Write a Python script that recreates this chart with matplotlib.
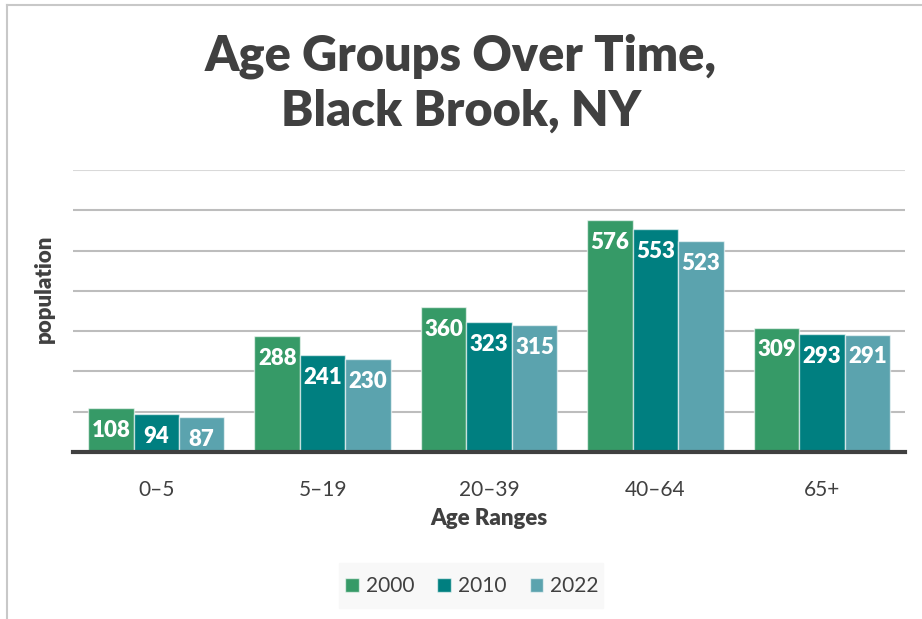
import numpy as np
import matplotlib.pyplot as plt
from matplotlib.lines import Line2D
from matplotlib.patches import Rectangle

plt.rcParams['font.family'] = ['Lato', 'DejaVu Sans']

age_ranges = ['0–5', '5–19', '20–39', '40–64', '65+']
years = ['2000', '2010', '2022']
pop_2000 = [108, 288, 360, 576, 309]
pop_2010 = [94, 241, 323, 553, 293]
pop_2022 = [87, 230, 315, 523, 291]
grid_values = [100, 200, 300, 400, 500, 600, 700]

colors = ['#369a67', '#007f80', '#5ba3ae']
dark = '#404040'

fig = plt.figure(figsize=(9.22, 6.19), dpi=100)
ax = fig.add_axes([0.0792, 0.2698, 0.9024, 0.4556])

x = np.arange(len(age_ranges))
w = 0.273
for i, (vals, c, yr) in enumerate(zip([pop_2000, pop_2010, pop_2022], colors, years)):
    bars = ax.bar(x + (i - 1) * w, vals, w, color=c, label=yr,
                  edgecolor=(1, 1, 1, 0.6), linewidth=1, zorder=3)
    for b, v in zip(bars, vals):
        ax.annotate(str(v), (b.get_x() + b.get_width() / 2, v),
                    xytext=(0, -16), textcoords='offset points',
                    ha='center', va='center', color='white',
                    fontsize=16, fontweight='heavy', zorder=4)

# gridlines, the top one a little lighter
for g in grid_values:
    ax.axhline(g, color='#d9d9d9' if g == grid_values[-1] else '#bdbdbd',
               linewidth=1.5, zorder=1)

ax.set_xlim(-0.5, len(age_ranges) - 0.5)
ax.set_ylim(0, 700)
ax.set_xticks(x)
ax.set_xticklabels(age_ranges, fontsize=15, color=dark)
ax.tick_params(axis='x', length=0, pad=20)
ax.set_yticks([])
for s in ['top', 'right', 'left']:
    ax.spines[s].set_visible(False)
ax.spines['bottom'].set_color(dark)
ax.spines['bottom'].set_linewidth(3)
ax.spines['bottom'].set_zorder(5)
ax.set_xlabel('Age Ranges', fontsize=16, fontweight='heavy', color=dark, labelpad=6)
ax.set_ylabel('population', fontsize=16, fontweight='heavy', color=dark, va='center')
ax.yaxis.set_label_coords(-0.034, 0.58)

fig.text(0.5, 1 - 56 / 619, 'Age Groups Over Time,', ha='center', va='center',
         fontsize=35, fontweight='heavy', color=dark)
fig.text(0.5, 1 - 111 / 619, 'Black Brook, NY', ha='center', va='center',
         fontsize=35, fontweight='heavy', color=dark)

# legend box
fig.patches.append(Rectangle((339 / 922, 1 - 608 / 619), 264 / 922, 45 / 619,
                             transform=fig.transFigure, color='#f8f8f8', zorder=0))
leg = fig.legend(loc='center', bbox_to_anchor=(0.512, 1 - 586 / 619), ncol=3,
                 frameon=False, fontsize=15, handlelength=0.65, handleheight=0.65,
                 handletextpad=0.35, columnspacing=1.1)
for t in leg.get_texts():
    t.set_color(dark)

# outer frame lines
fig.add_artist(Line2D([7 / 922, 7 / 922], [0, 1 - 5 / 619], transform=fig.transFigure,
                      color='#c8c8c8', linewidth=1.5))
fig.add_artist(Line2D([7 / 922, 1], [1 - 5 / 619, 1 - 5 / 619], transform=fig.transFigure,
                      color='#c8c8c8', linewidth=1.5))

fig.savefig('out.png', dpi=100)
